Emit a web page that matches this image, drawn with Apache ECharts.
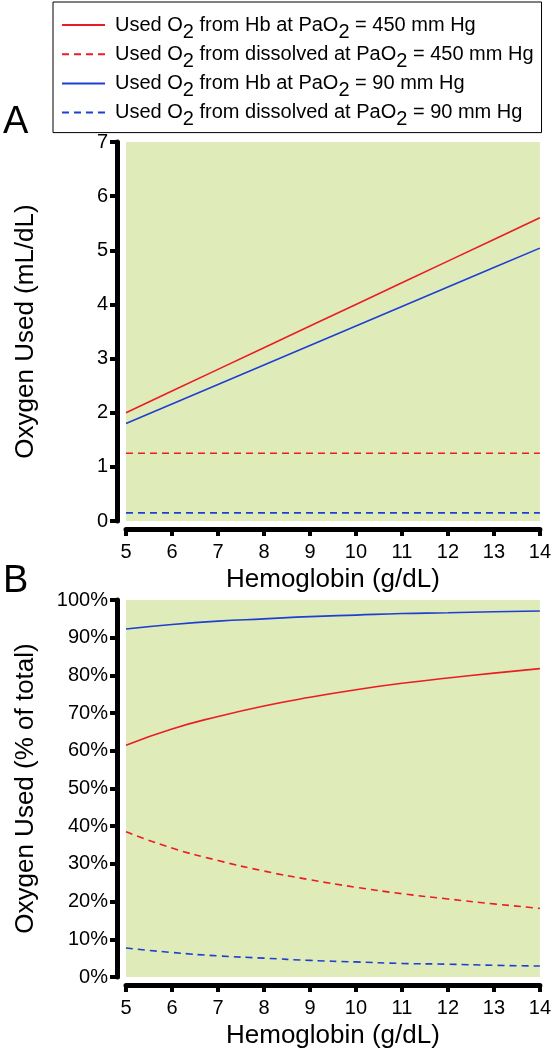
<!DOCTYPE html>
<html>
<head>
<meta charset="utf-8">
<script src="https://cdn.jsdelivr.net/npm/echarts@6/dist/echarts.min.js"></script>
<style>
  html, body { margin: 0; padding: 0; background: #ffffff; }
  #chart { width: 554px; height: 1050px; }
</style>
</head>
<body>
<div id="chart"></div>
<script>
// ---- Data ----
var hemoglobin = [5, 6, 7, 8, 9, 10, 11, 12, 13, 14];

// Panel A: oxygen used (mL/dL)
var usedHb450 = [2.0, 2.4, 2.8, 3.2, 3.6, 4.0, 4.4, 4.8, 5.2, 5.6];
var usedDiss450 = [1.25, 1.25, 1.25, 1.25, 1.25, 1.25, 1.25, 1.25, 1.25, 1.25];
var usedHb90 = [1.8, 2.16, 2.52, 2.88, 3.24, 3.6, 3.96, 4.32, 4.68, 5.04];
var usedDiss90 = [0.15, 0.15, 0.15, 0.15, 0.15, 0.15, 0.15, 0.15, 0.15, 0.15];

// Panel B: oxygen used (% of total)
var pctHb450 = [61.5, 65.8, 69.1, 71.9, 74.2, 76.2, 77.9, 79.3, 80.6, 81.8];
var pctDiss450 = [38.5, 34.2, 30.9, 28.1, 25.8, 23.8, 22.1, 20.7, 19.4, 18.2];
var pctHb90 = [92.3, 93.5, 94.4, 95.0, 95.6, 96.0, 96.4, 96.6, 96.9, 97.1];
var pctDiss90 = [7.7, 6.5, 5.6, 5.0, 4.4, 4.0, 3.6, 3.4, 3.1, 2.9];

var seriesNames = [
  'Used O2 from Hb at PaO2 = 450 mm Hg',
  'Used O2 from dissolved at PaO2 = 450 mm Hg',
  'Used O2 from Hb at PaO2 = 90 mm Hg',
  'Used O2 from dissolved at PaO2 = 90 mm Hg'
];
var legendRich = [
  '{t0|Used O}{s|2}{t| from Hb at PaO}{s|2}{t| = 450 mm Hg}',
  '{t0|Used O}{s|2}{t| from dissolved at PaO}{s|2}{t| = 450 mm Hg}',
  '{t0|Used O}{s|2}{t| from Hb at PaO}{s|2}{t| = 90 mm Hg}',
  '{t0|Used O}{s|2}{t| from dissolved at PaO}{s|2}{t| = 90 mm Hg}'
];
var panelLabels = ['A', 'B'];
var xAxisTitle = 'Hemoglobin (g/dL)';
var yAxisTitles = ['Oxygen Used (mL/dL)', 'Oxygen Used (% of total)'];

// ---- Styling ----
var FONT = 'Liberation Sans, Arial, Helvetica, sans-serif';
var RED = '#ec1c24';
var BLUE = '#1f3fd2';
var BG = '#dfebb9';

function pairs(vals) {
  return hemoglobin.map(function (h, i) { return [h, vals[i]]; });
}

function makeSeries(name, vals, color, dashed, axisIndex, smooth) {
  return {
    name: name,
    type: 'line',
    xAxisIndex: axisIndex,
    yAxisIndex: axisIndex,
    data: pairs(vals),
    symbol: 'none',
    smooth: smooth,
    silent: true,
    lineStyle: { color: color, width: 1.6, type: dashed ? [7, 5] : 'solid' },
    itemStyle: { color: color }
  };
}

function xAxisDef(gridIndex) {
  return {
    type: 'value', gridIndex: gridIndex,
    min: 5, max: 14, interval: 1,
    offset: 8,
    name: xAxisTitle, nameLocation: 'middle', nameGap: 38,
    nameTextStyle: { fontSize: 26, color: '#000', fontFamily: FONT },
    axisLine: { show: true, onZero: false, lineStyle: { color: '#000', width: 5, cap: 'round' } },
    axisTick: { show: true, length: 7, lineStyle: { color: '#000', width: 4 } },
    axisLabel: { fontSize: 20, color: '#000', fontFamily: FONT, margin: 13 },
    splitLine: { show: false }
  };
}

var option = {
  animation: false,
  backgroundColor: '#ffffff',
  textStyle: { fontFamily: FONT },
  legend: {
    orient: 'vertical',
    left: 53, top: 2,
    padding: [6, 8, 3, 8],
    borderColor: '#000', borderWidth: 1,
    itemWidth: 43, itemHeight: 2,
    itemGap: -4.8,
    selectedMode: false,
    itemStyle: { opacity: 0 },
    data: seriesNames,
    formatter: function (name) { return legendRich[seriesNames.indexOf(name)]; },
    textStyle: {
      color: '#000', fontFamily: FONT, fontSize: 20,
      rich: {
        t0: { fontSize: 20, lineHeight: 15, color: '#000', fontFamily: FONT, padding: [0, 0, 0, 5] },
        t: { fontSize: 20, lineHeight: 15, color: '#000', fontFamily: FONT },
        s: { fontSize: 20, lineHeight: 15, color: '#000', fontFamily: FONT, padding: [14, 0, 0, 0] }
      }
    }
  },
  graphic: [
    { type: 'text', left: 3, top: 104, style: { text: panelLabels[0], font: '38px ' + FONT, fill: '#000' } },
    { type: 'text', left: 3, top: 563, style: { text: panelLabels[1], font: '38px ' + FONT, fill: '#000' } }
  ],
  grid: [
    { left: 126, top: 142, width: 416, height: 379, show: true, backgroundColor: BG, borderWidth: 0 },
    { left: 126, top: 600, width: 416, height: 378, show: true, backgroundColor: BG, borderWidth: 0 }
  ],
  xAxis: [xAxisDef(0), xAxisDef(1)],
  yAxis: [
    {
      type: 'value', gridIndex: 0, min: 0, max: 7, interval: 1,
      offset: 9,
      name: yAxisTitles[0], nameLocation: 'middle', nameGap: 78,
      nameTextStyle: { fontSize: 26, color: '#000', fontFamily: FONT },
      axisLine: { show: true, onZero: false, lineStyle: { color: '#000', width: 5, cap: 'round' } },
      axisTick: { show: true, length: 7, lineStyle: { color: '#000', width: 4 } },
      axisLabel: { fontSize: 20, color: '#000', fontFamily: FONT, margin: 9 },
      splitLine: { show: false }
    },
    {
      type: 'value', gridIndex: 1, min: 0, max: 100, interval: 10,
      offset: 9,
      name: yAxisTitles[1], nameLocation: 'middle', nameGap: 78,
      nameTextStyle: { fontSize: 26, color: '#000', fontFamily: FONT },
      axisLine: { show: true, onZero: false, lineStyle: { color: '#000', width: 5, cap: 'round' } },
      axisTick: { show: true, length: 7, lineStyle: { color: '#000', width: 4 } },
      axisLabel: { fontSize: 20, color: '#000', fontFamily: FONT, margin: 9, formatter: '{value}%' },
      splitLine: { show: false }
    }
  ],
  series: [
    makeSeries(seriesNames[0], usedHb450, RED, false, 0, false),
    makeSeries(seriesNames[1], usedDiss450, RED, true, 0, false),
    makeSeries(seriesNames[2], usedHb90, BLUE, false, 0, false),
    makeSeries(seriesNames[3], usedDiss90, BLUE, true, 0, false),
    makeSeries(seriesNames[0], pctHb450, RED, false, 1, true),
    makeSeries(seriesNames[1], pctDiss450, RED, true, 1, true),
    makeSeries(seriesNames[2], pctHb90, BLUE, false, 1, true),
    makeSeries(seriesNames[3], pctDiss90, BLUE, true, 1, true)
  ]
};

var chart = echarts.init(document.getElementById('chart'), null, { renderer: 'canvas' });
chart.setOption(option);
</script>
</body>
</html>
